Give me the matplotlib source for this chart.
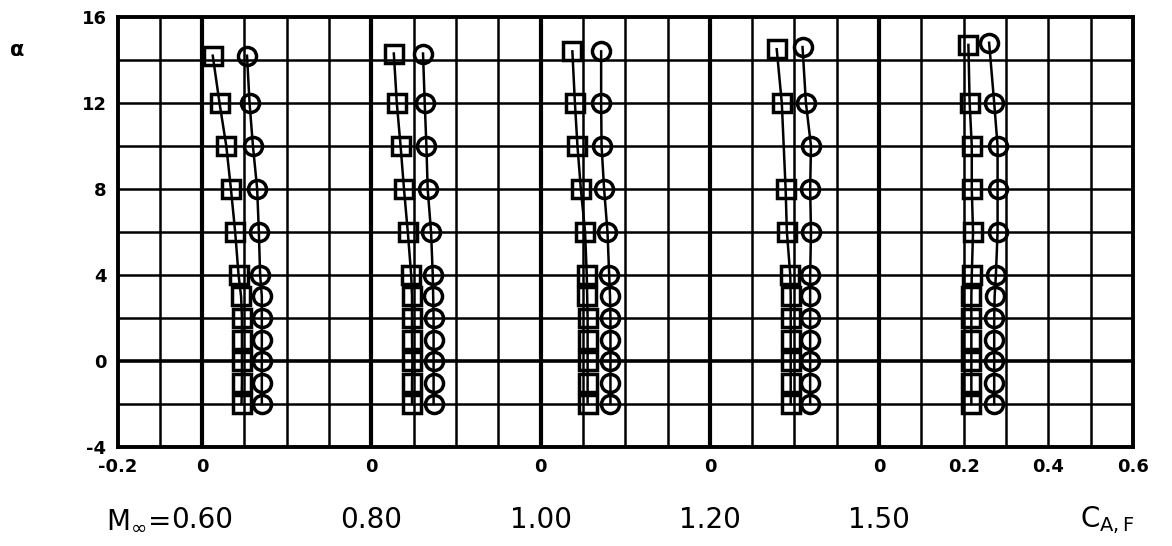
import matplotlib
matplotlib.use("Agg")
import matplotlib.pyplot as plt
import numpy as np

# Axial force coefficient C_A,F vs angle of attack, one group per Mach number.
# Each group is plotted from its own zero, shifted by 0.4 along the x axis.
mach_labels = ["0.60", "0.80", "1.00", "1.20", "1.50"]
offsets = [0.0, 0.4, 0.8, 1.2, 1.6]

# squares
sq_alpha_060 = [-2, -1, 0, 1, 2, 3, 4, 6, 8, 10, 12, 14.2]
sq_caf_060 = [0.093, 0.094, 0.094, 0.094, 0.094, 0.092, 0.086, 0.078, 0.068, 0.057, 0.041, 0.025]
sq_alpha_080 = [-2, -1, 0, 1, 2, 3, 4, 6, 8, 10, 12, 14.3]
sq_caf_080 = [0.096, 0.096, 0.097, 0.096, 0.096, 0.096, 0.094, 0.086, 0.077, 0.069, 0.060, 0.053]
sq_alpha_100 = [-2, -1, 0, 1, 2, 3, 4, 6, 8, 10, 12, 14.4]
sq_caf_100 = [0.111, 0.111, 0.111, 0.111, 0.111, 0.110, 0.109, 0.105, 0.095, 0.087, 0.081, 0.075]
sq_alpha_120 = [-2, -1, 0, 1, 2, 3, 4, 6, 8, 12, 14.5]
sq_caf_120 = [0.191, 0.191, 0.191, 0.191, 0.191, 0.191, 0.190, 0.182, 0.179, 0.170, 0.158]
sq_alpha_150 = [-2, -1, 0, 1, 2, 3, 4, 6, 8, 10, 12, 14.7]
sq_caf_150 = [0.218, 0.218, 0.218, 0.218, 0.218, 0.218, 0.219, 0.222, 0.219, 0.219, 0.214, 0.211]

# circles
ci_alpha_060 = [-2, -1, 0, 1, 2, 3, 4, 6, 8, 10, 12, 14.2]
ci_caf_060 = [0.141, 0.141, 0.141, 0.141, 0.141, 0.141, 0.137, 0.134, 0.130, 0.120, 0.112, 0.106]
ci_alpha_080 = [-2, -1, 0, 1, 2, 3, 4, 6, 8, 10, 12, 14.3]
ci_caf_080 = [0.147, 0.147, 0.147, 0.147, 0.147, 0.146, 0.145, 0.141, 0.133, 0.130, 0.126, 0.122]
ci_alpha_100 = [-2, -1, 0, 1, 2, 3, 4, 6, 8, 10, 12, 14.4]
ci_caf_100 = [0.165, 0.165, 0.165, 0.165, 0.165, 0.164, 0.162, 0.158, 0.150, 0.144, 0.143, 0.143]
ci_alpha_120 = [-2, -1, 0, 1, 2, 3, 4, 6, 8, 10, 12, 14.6]
ci_caf_120 = [0.237, 0.237, 0.237, 0.237, 0.237, 0.237, 0.237, 0.239, 0.237, 0.239, 0.227, 0.219]
ci_alpha_150 = [-2, -1, 0, 1, 2, 3, 4, 6, 8, 10, 12, 14.8]
ci_caf_150 = [0.272, 0.272, 0.272, 0.272, 0.272, 0.273, 0.276, 0.280, 0.280, 0.280, 0.272, 0.260]

squares = [(sq_alpha_060, sq_caf_060), (sq_alpha_080, sq_caf_080), (sq_alpha_100, sq_caf_100),
           (sq_alpha_120, sq_caf_120), (sq_alpha_150, sq_caf_150)]
circles = [(ci_alpha_060, ci_caf_060), (ci_alpha_080, ci_caf_080), (ci_alpha_100, ci_caf_100),
           (ci_alpha_120, ci_caf_120), (ci_alpha_150, ci_caf_150)]

xtick_pos = [-0.2, 0.0, 0.4, 0.8, 1.2, 1.6, 1.8, 2.0, 2.2]
xtick_labels = ["-0.2", "0", "0", "0", "0", "0", "0.2", "0.4", "0.6"]
ytick_pos = [-4, 0, 4, 8, 12, 16]
ytick_labels = ["-4", "0", "4", "8", "12", "16"]

fig = plt.figure(figsize=(11.72, 5.46), dpi=100)
ax = fig.add_axes([0.1003, 0.1813, 0.8664, 0.7876])
ax.set_xlim(-0.2, 2.2)
ax.set_ylim(-4, 16)

# grid paper
for x in np.arange(-0.1, 2.15, 0.1):
    heavy = any(abs(x - o) < 1e-6 for o in offsets)
    ax.axvline(x, color="black", lw=3.0 if heavy else 1.8, zorder=1)
for y in range(-2, 16, 2):
    ax.axhline(y, color="black", lw=2.6 if y == 0 else 1.8, zorder=1)

# open symbols, the fairing line shows through them like on the original
for off, (a, c) in zip(offsets, squares):
    ax.plot(np.array(c) + off, a, color="black", lw=1.8, marker="s", ms=12.5,
            mfc="none", mec="black", mew=2.5, zorder=3)
for off, (a, c) in zip(offsets, circles):
    ax.plot(np.array(c) + off, a, color="black", lw=1.8, marker="o", ms=13,
            mfc="none", mec="black", mew=2.5, zorder=3)

for s in ax.spines.values():
    s.set_linewidth(2.8)

ax.set_xticks(xtick_pos)
ax.set_xticklabels(xtick_labels, fontsize=13, fontweight="bold")
ax.set_yticks(ytick_pos)
ax.set_yticklabels(ytick_labels, fontsize=13, fontweight="bold")
ax.tick_params(length=0, pad=8)

fig.text(17 / 1172, 1 - 50 / 546, r"$\mathbf{\alpha}$", fontsize=15,
         ha="center", va="center")

trans = ax.get_xaxis_transform()
for off, lab in zip(offsets, mach_labels):
    ax.text(off, -0.17, lab, fontsize=20, ha="center", va="center", transform=trans)
ax.text(-0.078, -0.17, r"M$_{\infty}$=", fontsize=20, ha="right", va="center",
        transform=trans)
ax.text(2.14, -0.17, r"C$_{\mathrm{A,F}}$", fontsize=20, ha="center", va="center",
        transform=trans)

fig.savefig("out.png", dpi=100)
